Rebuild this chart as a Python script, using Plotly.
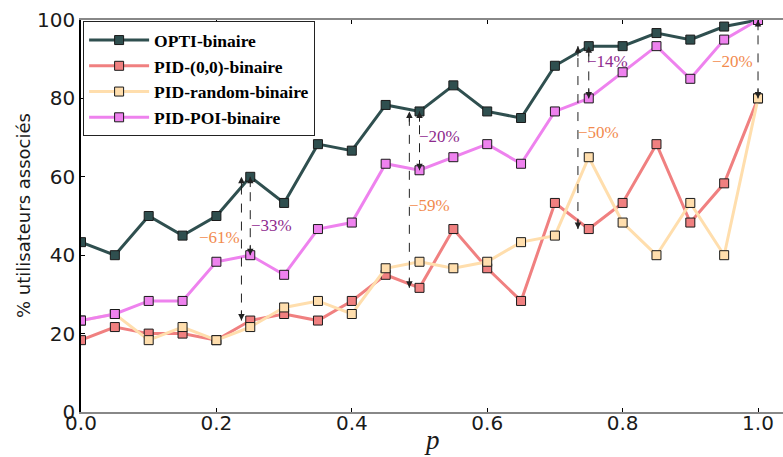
import plotly.graph_objects as go

p = [0.0, 0.05, 0.1, 0.15, 0.2, 0.25, 0.3, 0.35, 0.4, 0.45, 0.5,
     0.55, 0.6, 0.65, 0.7, 0.75, 0.8, 0.85, 0.9, 0.95, 1.0]

opti = [43.33, 40.0, 50.0, 45.0, 50.0, 60.0, 53.33, 68.33, 66.67, 78.33, 76.67,
        83.33, 76.67, 75.0, 88.33, 93.33, 93.33, 96.67, 95.0, 98.33, 100.0]
pid00 = [18.33, 21.67, 20.0, 20.0, 18.33, 23.33, 25.0, 23.33, 28.33, 35.0, 31.67,
         46.67, 36.67, 28.33, 53.33, 46.67, 53.33, 68.33, 48.33, 58.33, 80.0]
pidrand = [23.33, 25.0, 18.33, 21.67, 18.33, 21.67, 26.67, 28.33, 25.0, 36.67, 38.33,
           36.67, 38.33, 43.33, 45.0, 65.0, 48.33, 40.0, 53.33, 40.0, 80.0]
pidpoi = [23.33, 25.0, 28.33, 28.33, 38.33, 40.0, 35.0, 46.67, 48.33, 63.33, 61.67,
          65.0, 68.33, 63.33, 76.67, 80.0, 86.67, 93.33, 85.0, 95.0, 100.0]

series = [
    ("OPTI-binaire", opti, "#2F4F4F"),
    ("PID-(0,0)-binaire", pid00, "#F08080"),
    ("PID-random-binaire", pidrand, "#FFDEAD"),
    ("PID-POI-binaire", pidpoi, "#EE82EE"),
]

ORANGE = "#F28A4E"
PURPLE = "#8E2A8E"
comparisons = [
    (5, pid00, "\u221261%", 0.205, 44.4, -0.013, ORANGE, "#D96060"),
    (5, pidpoi, "\u221233%", 0.282, 47.7, 0.0, PURPLE, "#6E1A6E"),
    (10, pid00, "\u221259%", 0.515, 52.8, -0.015, ORANGE, "#D96060"),
    (10, pidpoi, "\u221220%", 0.53, 70.4, 0.0, PURPLE, "#6E1A6E"),
    (15, pid00, "\u221250%", 0.765, 71.4, -0.016, ORANGE, "#D96060"),
    (15, pidpoi, "\u221214%", 0.778, 89.5, 0.0, PURPLE, "#6E1A6E"),
    (20, pidrand, "\u221220%", 0.963, 89.3, 0.0, ORANGE, "#D96060"),
]

fig = go.Figure()
for name, vals, col in series:
    fig.add_trace(go.Scatter(
        x=p, y=vals, name=name, mode="lines+markers",
        line=dict(color=col, width=3),
        marker=dict(symbol="square", size=9, color=col,
                    line=dict(color="#1a1a1a", width=1)),
    ))

shapes = []
annotations = []
for idx, comp, label, lx, ly, dx, col, headcol in comparisons:
    xa = p[idx] + dx
    ytop = opti[idx]
    ybot = comp[idx]
    shapes.append(dict(type="line", xref="x", yref="y", x0=xa, x1=xa,
                       y0=ybot, y1=ytop, line=dict(color="#222222", width=1, dash="dash")))
    for yh, ytail in ((ytop, ytop - 3), (ybot, ybot + 3)):
        annotations.append(dict(x=xa, y=yh, ax=xa, ay=ytail, xref="x", yref="y",
                                axref="x", ayref="y", text="", showarrow=True,
                                arrowhead=2, arrowsize=1.3, arrowwidth=1,
                                arrowcolor="#222222", standoff=0, startstandoff=0))
    annotations.append(dict(x=lx, y=ly, xref="x", yref="y", text=label,
                            showarrow=False,
                            font=dict(family="Liberation Serif", size=17, color=col)))

plot_w = 783 - 81
annotations.append(dict(x=(23 - 81) / plot_w, y=0.5, xref="paper", yref="paper",
                        text="% utilisateurs associés",
                        showarrow=False, textangle=-90, xanchor="center", yanchor="middle",
                        font=dict(family="DejaVu Sans", size=18, color="#1a1a1a")))
annotations.append(dict(x=(432 - 81) / plot_w, y=-(440 - 412) / 392, xref="paper", yref="paper",
                        text="<i>p</i>",
                        showarrow=False, xanchor="center", yanchor="middle",
                        font=dict(family="Liberation Serif", size=27, color="#1a1a1a")))

fig.update_layout(
    width=783, height=457,
    margin=dict(l=81, r=0, t=20, b=45, autoexpand=False),
    plot_bgcolor="white", paper_bgcolor="white",
    shapes=shapes, annotations=annotations,
    legend=dict(x=0.003, y=0.997, xanchor="left", yanchor="top",
                bgcolor="white", bordercolor="#222222", borderwidth=1,
                font=dict(family="Liberation Serif", size=17.5, color="black",
                          weight="bold"),
                itemwidth=60, tracegroupgap=4),
    xaxis=dict(range=[0, 1.0369], tickvals=[0, 0.2, 0.4, 0.6, 0.8, 1.0],
               ticktext=["0.0", "0.2", "0.4", "0.6", "0.8", "1.0"],
               ticks="inside", ticklen=4, tickcolor="black", automargin=False,
               showline=True, linecolor="#888888", linewidth=2, mirror="allticks",
               showgrid=False, zeroline=False, ticklabelstandoff=-8,
               tickfont=dict(family="DejaVu Sans", size=20, color="#1a1a1a")),
    yaxis=dict(range=[0, 100], tickvals=[0, 20, 40, 60, 80, 100],
               ticks="inside", ticklen=4, tickcolor="black", automargin=False,
               showline=True, linecolor="black", linewidth=1.5,
               showgrid=False, zeroline=False,
               tickfont=dict(family="DejaVu Sans", size=20, color="#1a1a1a")),
)

fig.write_html("out.html", config={"displayModeBar": False},
               post_script="document.body.style.margin='0';document.body.style.overflow='hidden';")
